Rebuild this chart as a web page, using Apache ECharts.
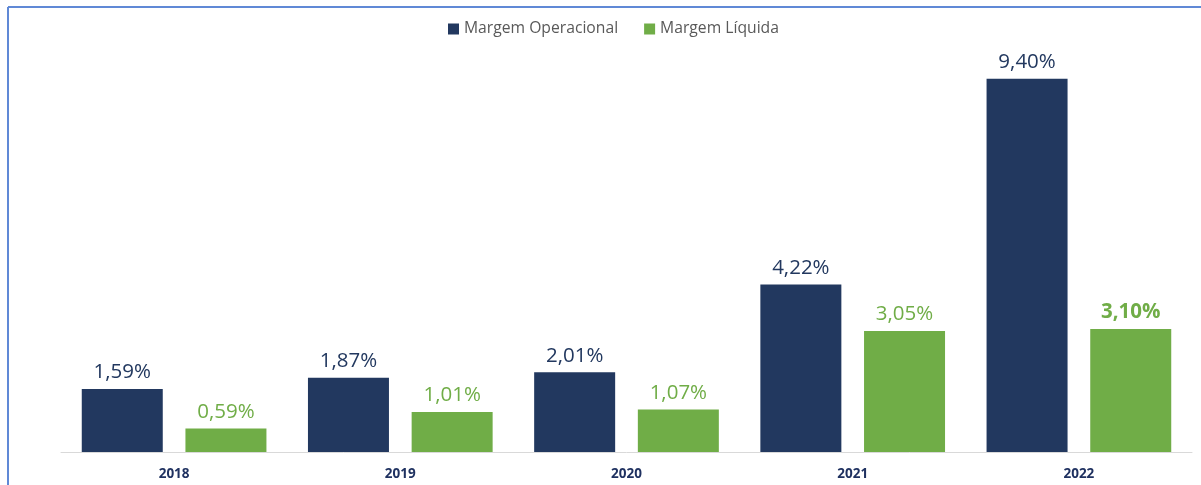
<!DOCTYPE html>
<html>
<head>
<meta charset="utf-8">
<script src="https://cdn.jsdelivr.net/npm/echarts@6/dist/echarts.min.js"></script>
<style>
  html, body { margin: 0; padding: 0; background: #fff; }
  #chart { width: 1201px; height: 485px; }
</style>
</head>
<body>
<div id="chart"></div>
<script>
// dados do gráfico
var anos = ['2018', '2019', '2020', '2021', '2022'];
var margemOperacional = [1.59, 1.87, 2.01, 4.22, 9.40];
var margemLiquida = [0.59, 1.01, 1.07, 3.05, 3.10];

var corAzul = '#22385f';
var corVerde = '#70ad47';

function fmt(v) {
    return v.toFixed(2).replace('.', ',') + '%';
}

var chart = echarts.init(document.getElementById('chart'));

// último valor da margem líquida aparece em negrito
var dadosLiquida = [];
for (var i = 0; i < margemLiquida.length; i++) {
    if (i == margemLiquida.length - 1) {
        dadosLiquida.push({ value: margemLiquida[i], label: { fontWeight: 'bold' } });
    } else {
        dadosLiquida.push(margemLiquida[i]);
    }
}

var option = {
    animation: false,
    textStyle: { fontFamily: 'Open Sans' },
    legend: {
        top: 16,
        left: 443,
        itemWidth: 11,
        itemHeight: 11,
        itemGap: 26,
        itemStyle: { borderWidth: 0 },
        icon: 'rect',
        textStyle: { color: '#595959', fontSize: 15.7, fontFamily: 'Open Sans' },
        data: ['Margem Operacional', 'Margem Líquida']
    },
    grid: {
        left: 61,
        right: 9,
        top: 55,
        bottom: 33
    },
    xAxis: {
        type: 'category',
        data: anos,
        axisTick: { show: false },
        axisLine: { lineStyle: { color: '#d9d9d9', width: 1 } },
        axisLabel: {
            color: '#1f3160',
            fontWeight: 'bold',
            fontSize: 13.5,
            margin: 15
        }
    },
    yAxis: {
        type: 'value',
        min: 0,
        max: 10,
        show: false,
        splitLine: { show: false }
    },
    series: [
        {
            name: 'Margem Operacional',
            type: 'bar',
            barWidth: 81,
            barGap: '28%',
            itemStyle: { color: corAzul },
            label: {
                show: true,
                position: 'top',
                distance: 6,
                color: corAzul,
                fontSize: 20.5,
                formatter: function (p) { return fmt(p.value); }
            },
            data: margemOperacional
        },
        {
            name: 'Margem Líquida',
            type: 'bar',
            barWidth: 81,
            itemStyle: { color: corVerde },
            label: {
                show: true,
                position: 'top',
                distance: 6,
                color: corVerde,
                fontSize: 20.5,
                formatter: function (p) { return fmt(p.value); }
            },
            data: dadosLiquida
        }
    ],
    graphic: [
        {
            type: 'line',
            shape: { x1: 8, y1: 7, x2: 1201, y2: 7 },
            style: { stroke: '#6089d6', lineWidth: 2 }
        },
        {
            type: 'line',
            shape: { x1: 8, y1: 7, x2: 8, y2: 485 },
            style: { stroke: '#6089d6', lineWidth: 2 }
        }
    ]
};

chart.setOption(option);
</script>
</body>
</html>
